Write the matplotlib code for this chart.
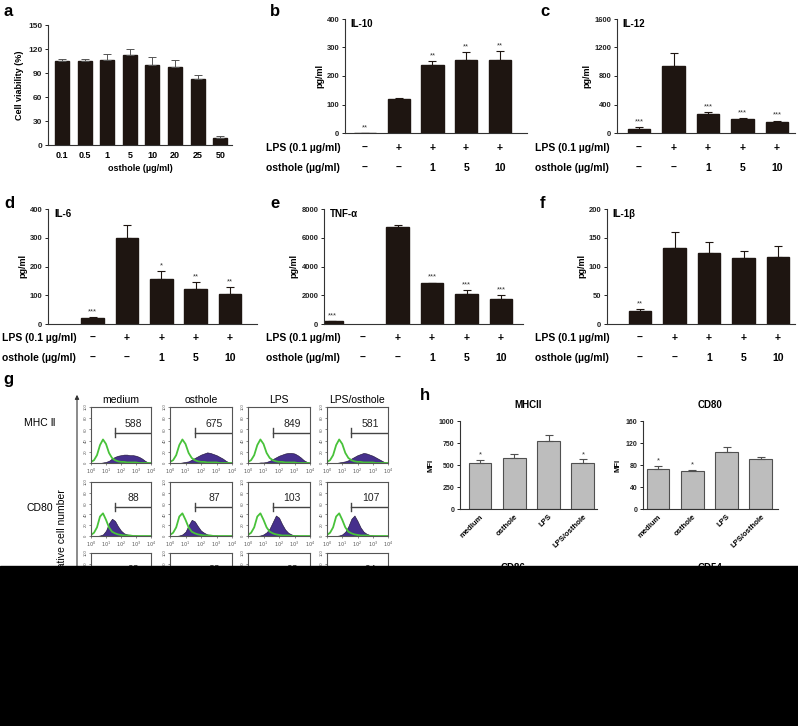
import matplotlib
matplotlib.use('Agg')
import matplotlib.pyplot as plt
import numpy as np
from matplotlib.patches import Rectangle, FancyArrowPatch
from matplotlib.transforms import blended_transform_factory

plt.rcParams['font.family'] = ['Liberation Sans', 'DejaVu Sans']

W, H = 798, 726
BAR = '#1e1511'

# ---- panel a : cell viability
a_conc = ['0.1', '0.5', '1', '5', '10', '20', '25', '50']
a_val = [105, 105, 106, 113, 100, 97, 82, 9]
a_err = [2, 3, 8, 7, 10, 9, 6, 2]

# ---- panels b-f : cytokines
lps_row = ['–', '+', '+', '+', '+']
ost_row = ['–', '–', '1', '5', '10']
il10_val = [0, 118, 238, 255, 256]
il10_err = [0, 5, 16, 30, 31]
il10_sig = ['**', '', '**', '**', '**']
il12_val = [55, 940, 265, 195, 150]
il12_err = [30, 180, 35, 15, 25]
il12_sig = ['***', '', '***', '***', '***']
il6_val = [22, 298, 157, 122, 105]
il6_err = [3, 47, 28, 23, 22]
il6_sig = ['***', '', '*', '**', '**']
tnf_val = [180, 6750, 2820, 2100, 1750]
tnf_err = [30, 170, 60, 250, 280]
tnf_sig = ['***', '', '***', '***', '***']
il1b_val = [23, 133, 123, 114, 116]
il1b_err = [3, 27, 20, 13, 19]
il1b_sig = ['**', '', '', '', '']

# ---- panel g : flow histograms (log10 fluorescence 0..4, step 0.2)
g_cols = ['medium', 'osthole', 'LPS', 'LPS/osthole']
g_rows = ['MHC Ⅱ', 'CD80']
g_mfi = [[588, 675, 849, 581], [88, 87, 103, 107], [93, 83, 93, 94]]
green_mhc = [2, 5, 14, 32, 42, 34, 18, 9, 5, 3, 2, 2, 1, 1, 1, 1, 0, 0, 0, 0, 0]
green_cd80 = [2, 6, 16, 36, 42, 30, 16, 8, 5, 3, 2, 1, 1, 1, 0, 0, 0, 0, 0, 0, 0]
purple_mhc = [
    [0, 0, 0, 0, 1, 2, 4, 8, 11, 13, 14, 15, 15, 14, 14, 13, 11, 8, 4, 1, 0],
    [0, 0, 0, 0, 1, 2, 3, 6, 9, 12, 15, 17, 19, 18, 16, 14, 11, 8, 4, 1, 0],
    [0, 0, 0, 0, 1, 1, 2, 4, 7, 10, 13, 15, 17, 18, 18, 17, 14, 10, 5, 2, 0],
    [0, 0, 0, 0, 1, 2, 3, 5, 8, 11, 14, 16, 18, 17, 15, 13, 10, 7, 4, 1, 0],
]
purple_cd80 = [
    [0, 0, 0, 1, 3, 10, 24, 32, 28, 18, 10, 5, 3, 2, 1, 1, 0, 0, 0, 0, 0],
    [0, 0, 0, 1, 3, 8, 20, 30, 27, 18, 10, 6, 3, 2, 1, 1, 0, 0, 0, 0, 0],
    [0, 0, 0, 0, 1, 3, 7, 14, 26, 38, 34, 22, 12, 6, 3, 1, 1, 0, 0, 0, 0],
    [0, 0, 0, 0, 1, 3, 8, 18, 32, 38, 28, 16, 8, 4, 2, 1, 0, 0, 0, 0, 0],
]

# ---- panel h : MFI
h_groups = ['medium', 'osthole', 'LPS', 'LPS/osthole']
mhc_val = [520, 585, 775, 520]
mhc_err = [40, 45, 70, 45]
mhc_sig = ['*', '', '', '*']
cd80_val = [73, 69, 103, 91]
cd80_err = [5, 2, 10, 4]
cd80_sig = ['*', '*', '', '']

fig = plt.figure(figsize=(W / 100, H / 100), dpi=100)
fig.patch.set_facecolor('white')


def add_ax(x0, y0, x1, y1):
    return fig.add_axes([x0 / W, 1 - y1 / H, (x1 - x0) / W, (y1 - y0) / H])


def fx(x):
    return x / W


def fy(y):
    return 1 - y / H


def style(ax, ticks, fs=5.5):
    for s in ['top', 'right']:
        ax.spines[s].set_visible(False)
    for s in ['left', 'bottom']:
        ax.spines[s].set_linewidth(0.8)
        ax.spines[s].set_color('#333333')
    ax.set_yticks(ticks, [str(t) for t in ticks], fontsize=fs, fontweight='bold')
    ax.tick_params(axis='y', length=2.5, width=0.7, pad=1.5, colors='#222222')


def stars(ax, pos, vals, errs, sigs, ymax):
    for p, v, e, s in zip(pos, vals, errs, sigs):
        if s:
            ax.text(p, v + e + ymax * 0.015, s, ha='center', va='bottom',
                    fontsize=5.5, color='#333333')


# panel letters
for lab, x, y in [('a', 4, 12), ('b', 270, 12), ('c', 540, 12), ('d', 4, 203),
                  ('e', 270, 203), ('f', 540, 203), ('g', 3, 380), ('h', 420, 395)]:
    fig.text(fx(x), fy(y), lab, fontsize=12, fontweight='bold', va='center')

# ---- a
ax = add_ax(48, 25, 232, 145)
pos = np.arange(len(a_val))
ax.bar(pos, a_val, width=0.62, color=BAR, edgecolor=BAR)
ax.errorbar(pos, a_val, yerr=[np.zeros(len(a_val)), a_err], fmt='none',
            ecolor='#555555', elinewidth=0.7, capsize=3, capthick=0.7)
ax.set_xlim(-0.62, 7.52)
ax.set_ylim(0, 150)
style(ax, [0, 30, 60, 90, 120, 150], fs=6)
ax.set_xticks(pos, a_conc, fontsize=6.5, fontweight='bold')
ax.tick_params(axis='x', length=0, pad=4)
ax.set_xlabel('osthole (µg/ml)', fontsize=6.5, fontweight='bold', labelpad=3)
ax.set_ylabel('Cell viability (%)', fontsize=6.5, fontweight='bold', labelpad=3)


def cyto(box, c0, sp, pos, vals, errs, sigs, ymax, step, title, rowx, rowy):
    left, top, right, bottom = box
    ax = add_ax(left, top, right, bottom)
    ax.bar(pos, vals, width=0.66, color=BAR, edgecolor=BAR)
    ax.errorbar(pos, vals, yerr=[np.zeros(len(vals)), errs], fmt='none',
                ecolor=BAR, elinewidth=0.8, capsize=3, capthick=0.8)
    ax.set_xlim((left - c0) / sp, (right - c0) / sp)
    ax.set_ylim(0, ymax)
    style(ax, list(range(0, ymax + 1, step)))
    ax.set_xticks([])
    ax.set_ylabel('pg/ml', fontsize=6.5, fontweight='bold', labelpad=2)
    ax.text(0.03, 0.96, title, transform=ax.transAxes, fontsize=7,
            fontweight='bold', va='center', ha='left')
    stars(ax, pos, vals, errs, sigs, ymax)
    tr = blended_transform_factory(ax.transData, fig.transFigure)
    for r, (lab, signs) in enumerate([('LPS (0.1 µg/ml)', lps_row),
                                      ('osthole (µg/ml)', ost_row)]):
        y = fy(rowy + 20 * r)
        fig.text(fx(rowx), y, lab, fontsize=7.5, fontweight='bold', va='center')
        for i, s in enumerate(signs):
            ax.text(i, y, s, transform=tr, ha='center', va='center',
                    fontsize=7.5, fontweight='bold')
    return ax


cyto((345, 19, 527, 133), 365, 33.7, [0, 1, 2, 3, 4], il10_val, il10_err,
     il10_sig, 400, 100, 'IL-10', 266, 148)
cyto((617, 19, 795, 133), 639, 34.5, [0, 1, 2, 3, 4], il12_val, il12_err,
     il12_sig, 1600, 400, 'IL-12', 535, 148)
cyto((48, 209, 257, 324), 92.5, 34.4, [0, 1, 2, 3, 4], il6_val, il6_err,
     il6_sig, 400, 100, 'IL-6', 2, 338)
cyto((324, 209, 523, 324), 363, 34.5, [-0.9, 1, 2, 3, 4], tnf_val, tnf_err,
     tnf_sig, 8000, 2000, 'TNF-α', 266, 338)
cyto((607, 209, 795, 324), 640, 34.5, [0, 1, 2, 3, 4], il1b_val, il1b_err,
     il1b_sig, 200, 50, 'IL-1β', 535, 338)

# ---- g
xs = np.linspace(0, 4, 21)
col_px = [(91, 151), (170, 232), (248, 310), (327, 388)]
row_px = [(407, 463), (482, 536), (553, 609)]
greens = [green_mhc, green_cd80]
purples = [purple_mhc, purple_cd80]
for r, (y0, y1) in enumerate(row_px):
    for c, (x0, x1) in enumerate(col_px):
        ax = add_ax(x0, y0, x1, y1)
        if r < 2:
            ax.fill_between(xs, purples[r][c], color='#46308c', lw=0.4,
                            edgecolor='#1a1030')
            ax.plot(xs, greens[r], color='#48c23a', lw=1.3)
        ax.set_xlim(0, 4)
        ax.set_ylim(0, 100)
        ax.plot([1.6, 4], [54, 54], color='#444444', lw=1)
        ax.plot([1.6, 1.6], [46, 62], color='#444444', lw=1)
        ax.text(2.85, 70, str(g_mfi[r][c]), ha='center', va='center',
                fontsize=7.5, color='#222222')
        ax.set_xticks([0, 1, 2, 3, 4],
                      ['$10^{%d}$' % k for k in range(5)], fontsize=3.5)
        ax.set_yticks([0, 20, 40, 60, 80, 100],
                      ['0', '20', '40', '60', '80', '100'], fontsize=3,
                      rotation=90, va='center')
        ax.tick_params(length=1.5, width=0.5, pad=1, colors='#555555')
        for s in ax.spines.values():
            s.set_linewidth(0.8)
            s.set_color('#555555')
        if r == 0:
            ax.set_title(g_cols[c], fontsize=7.5, pad=3)

for lab, y in zip(g_rows, [423, 508]):
    fig.text(fx(40), fy(y), lab, fontsize=7.5, ha='center', va='center')
fig.add_artist(FancyArrowPatch(
    (fx(77), fy(600)), (fx(77), fy(392)), transform=fig.transFigure,
    arrowstyle='-|>', mutation_scale=6, lw=0.8, color='#333333'))
fig.text(fx(62), fy(537), 'Relative cell number', rotation=90, fontsize=7.5,
         ha='center', va='center')


# ---- h
def mfi(box, c0, sp, vals, errs, sigs, ymax, step, title):
    left, top, right, bottom = box
    ax = add_ax(left, top, right, bottom)
    pos = np.arange(len(vals))
    ax.bar(pos, vals, width=0.67, color='#bdbdbd', edgecolor='#505050', lw=0.8)
    ax.errorbar(pos, vals, yerr=[np.zeros(len(vals)), errs], fmt='none',
                ecolor='#505050', elinewidth=0.8, capsize=3, capthick=0.8)
    ax.set_xlim((left - c0) / sp, (right - c0) / sp)
    ax.set_ylim(0, ymax)
    style(ax, list(range(0, ymax + 1, step)), fs=5)
    ax.set_xticks(pos, h_groups, rotation=45, ha='right', rotation_mode='anchor',
                  fontsize=5.5, fontweight='bold')
    ax.tick_params(axis='x', length=0, pad=3)
    ax.set_ylabel('MFI', fontsize=5.5, fontweight='bold', labelpad=3)
    ax.set_title(title, fontsize=7, fontweight='bold', pad=9)
    stars(ax, pos, vals, errs, sigs, ymax)


mfi((460, 421, 597, 509), 480, 34.3, mhc_val, mhc_err, mhc_sig, 1000, 250, 'MHCII')
mfi((643, 421, 778, 509), 658, 34.3, cd80_val, cd80_err, cd80_sig, 160, 40, 'CD80')
fig.text(fx(513), fy(568), 'CD86', fontsize=7, fontweight='bold', ha='center', va='center')
fig.text(fx(710), fy(568), 'CD54', fontsize=7, fontweight='bold', ha='center', va='center')

# black band at the bottom of the image
fig.add_artist(Rectangle((0, 0), 1, (H - 566) / H, transform=fig.transFigure,
                         color='black', zorder=100))

fig.savefig('out.png', dpi=100)
